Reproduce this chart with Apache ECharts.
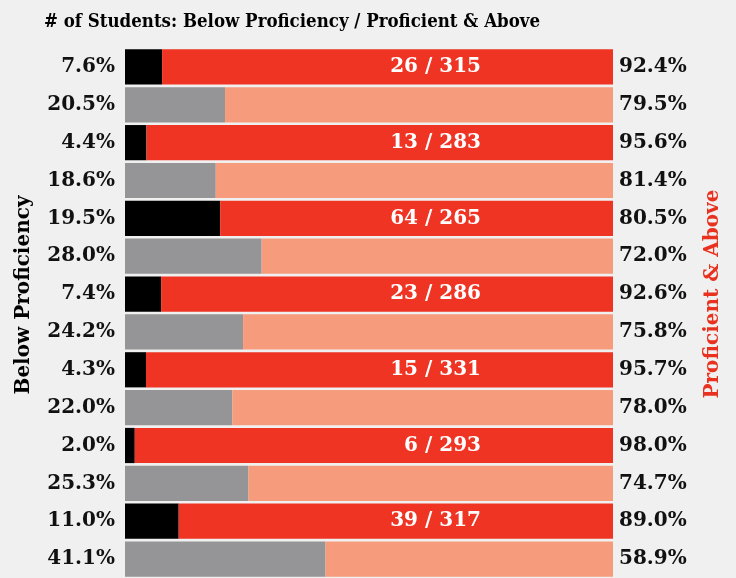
<!DOCTYPE html>
<html>
<head>
	<meta http-equiv="Content-Type" content="text/html; charset=UTF-8">
	<title>Students Proficiency</title>
	<script src="https://cdn.jsdelivr.net/npm/echarts@6/dist/echarts.min.js"></script>
	<style>
		body { margin: 0; background: #f0f0f0; }
	</style>
</head>
<body>

	<div id="main" style="width: 736px;height:578px;"></div>

	<script>

		// percent below proficiency, one per row (top to bottom)
		var belowPct = [7.6, 20.5, 4.4, 18.6, 19.5, 28.0, 7.4, 24.2, 4.3, 22.0, 2.0, 25.3, 11.0, 41.1];
		// percent proficient & above
		var proficientPct = [92.4, 79.5, 95.6, 81.4, 80.5, 72.0, 92.6, 75.8, 95.7, 78.0, 98.0, 74.7, 89.0, 58.9];
		// count labels, only on the dark rows
		var countLabels = ['26 / 315', '', '13 / 283', '', '64 / 265', '', '23 / 286', '', '15 / 331', '', '6 / 293', '', '39 / 317', ''];

		var rows = [];
		for (var i = 0; i < belowPct.length; i++) {
			rows.push('r' + i);
		}

		const darkColor = '#000000';
		const grayColor = '#959598';
		const redColor = '#ef3424';
		const salmonColor = '#f69c7c';
		const fontFam = '"DejaVu Serif", serif';

		var chartDom = document.getElementById('main');
		var myChart = echarts.init(chartDom);

		var belowData = belowPct.map(function (v, i) {
			return { value: v, itemStyle: { color: i % 2 === 0 ? darkColor : grayColor } };
		});
		var profData = proficientPct.map(function (v, i) {
			return { value: v, itemStyle: { color: i % 2 === 0 ? redColor : salmonColor } };
		});

		var option = {
			backgroundColor: '#f0f0f0',
			animation: false,
			title: {
				text: '# of Students: Below Proficiency / Proficient & Above',
				left: 39,
				top: 8,
				textStyle: {
					fontFamily: '"DejaVu Serif Condensed", "DejaVu Serif", serif',
					fontWeight: 'bold',
					fontSize: 18.5,
					color: '#000'
				}
			},
			grid: {
				left: 125,
				right: 123,
				top: 48,
				bottom: -2
			},
			xAxis: {
				type: 'value',
				min: 0,
				max: 100,
				show: false
			},
			yAxis: [
				{
					type: 'category',
					data: rows,
					inverse: true,
					position: 'left',
					axisLine: { show: false },
					axisTick: { show: false },
					name: 'Below Proficiency',
					nameLocation: 'middle',
					nameGap: 91,
					nameRotate: 90,
					nameTextStyle: {
						fontFamily: fontFam,
						fontWeight: 'bold',
						fontSize: 20,
						color: '#000',
						padding: [0, 0, 0, 36]
					},
					axisLabel: {
						margin: 10,
						fontFamily: fontFam,
						fontWeight: 'bold',
						fontSize: 20,
						color: '#111',
						formatter: function (val, idx) {
							return belowPct[idx].toFixed(1) + '%';
						}
					}
				},
				{
					type: 'category',
					data: rows,
					inverse: true,
					position: 'right',
					axisLine: { show: false },
					axisTick: { show: false },
					name: 'Proficient & Above',
					nameLocation: 'middle',
					nameGap: 90,
					nameRotate: 90,
					nameTextStyle: {
						fontFamily: fontFam,
						fontWeight: 'bold',
						fontSize: 20,
						color: '#e8321f',
						padding: [0, 0, 0, 38]
					},
					axisLabel: {
						margin: 6,
						fontFamily: fontFam,
						fontWeight: 'bold',
						fontSize: 20,
						color: '#111',
						formatter: function (val, idx) {
							return proficientPct[idx].toFixed(1) + '%';
						}
					}
				}
			],
			series: [
				{
					name: 'Below Proficiency',
					type: 'bar',
					stack: 'total',
					barCategoryGap: '7%',
					data: belowData
				},
				{
					name: 'Proficient & Above',
					type: 'bar',
					stack: 'total',
					barCategoryGap: '7%',
					data: profData,
					label: {
						show: true,
						position: 'insideRight',
						distance: 0,
						offset: [-132, 0],
						fontFamily: fontFam,
						fontWeight: 'bold',
						fontSize: 20,
						color: '#ffffff',
						formatter: function (p) {
							return countLabels[p.dataIndex];
						}
					}
				}
			]
		};

		option && myChart.setOption(option);

	</script>

</body>
</html>
